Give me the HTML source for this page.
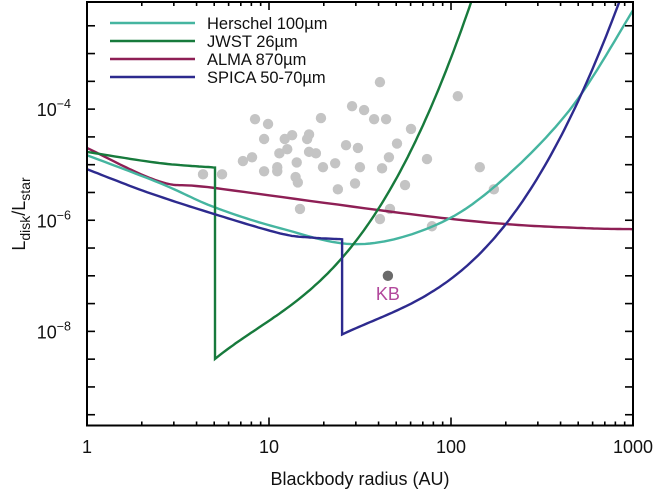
<!DOCTYPE html>
<html><head><meta charset="utf-8"><style>
html,body{margin:0;padding:0;background:#fff;}
svg{display:block;font-family:"Liberation Sans",sans-serif;}
</style></head><body>
<svg id="chart" width="658" height="491" viewBox="0 0 658 491" xmlns="http://www.w3.org/2000/svg">
<g id="marks"></g>
<g id="axes"></g>
</svg>
<script>
// ---- data ----
const xTicks = [1, 10, 100, 1000];
const xTickLabels = ["1", "10", "100", "1000"];
const yTickExps = [-4, -6, -8];
const diskR = [4.34,5.52,7.19,8.07,8.38,9.88,9.4,9.4,11.1,11.1,11.4,12.2,12.6,13.4,14.2,14.4,14.0,14.8,16.2,16.6,16.6,18.1,19.3,19.8,23.1,23.9,26.5,28.6,29.7,30.8,31.6,33.3,37.8,40.7,41.8,44.0,45.6,50.5,40.7,46.2,55.9,60.3,73.8,78.6,109,144,172];
const diskL = [6.7e-6,6.7e-6,1.16e-5,1.36e-5,6.6e-5,5.4e-5,2.9e-5,7.6e-6,9.0e-6,7.6e-6,1.6e-5,2.9e-5,1.9e-5,3.4e-5,1.1e-5,4.8e-6,6.0e-6,1.6e-6,2.9e-5,3.5e-5,1.7e-5,1.6e-5,6.9e-5,9.0e-6,1.06e-5,3.6e-6,2.24e-5,1.13e-4,4.6e-6,2.0e-5,9.0e-6,9.6e-5,6.6e-5,3.06e-4,8.6e-6,6.6e-5,1.36e-5,2.4e-5,1.05e-6,1.6e-6,4.3e-6,4.4e-5,1.26e-5,7.8e-7,1.71e-4,9.0e-6,3.6e-6];
const kbR = 45, kbL = 1.0e-7;
const herschelR = [1, 2.5, 5.05, 11.5, 30, 76.7, 170, 447, 1000];
const herschelL = [1.48e-5, 4.7e-6, 1.7e-6, 7.2e-7, 3.7e-7, 7.4e-7, 3.8e-6, 9.5e-5, 6.0e-3];
const jwstR1 = [1, 2.5, 5.05];
const jwstL1 = [1.7e-5, 1.07e-5, 8.9e-6];
const jwstR2 = [5.05, 7.57, 11.5, 17.5, 25.5, 32.8, 40.7, 50.5, 61.8, 83.7, 98.8, 130];
const jwstL2 = [3.2e-9, 7.8e-9, 2.4e-8, 7.3e-8, 1.68e-7, 5.4e-7, 1.34e-6, 9.0e-6, 3.7e-5, 1.45e-4, 5.0e-4, 9.2e-3];
const almaR = [1, 2.5, 5.05, 59.6, 204, 550, 1000];
const almaL = [2.0e-5, 5.0e-6, 3.8e-6, 1.29e-6, 8.5e-7, 7.2e-7, 6.9e-7];
const spicaR1 = [1, 2.14, 5.05, 11.5, 16.8, 25.2];
const spicaL1 = [8.3e-6, 3.2e-6, 1.28e-6, 5.8e-7, 4.9e-7, 4.55e-7];
const spicaR2 = [25.2, 50.5, 76.7, 87, 132, 204, 297, 412, 511, 659, 849];
const spicaL2 = [8.8e-9, 2.1e-8, 5.5e-8, 6.2e-8, 2.15e-7, 8.5e-7, 5.3e-6, 3.7e-5, 1.45e-4, 1.55e-3, 9.2e-3];
const seriesNames = ["Herschel 100µm","JWST 26µm","ALMA 870µm","SPICA 50-70µm"];
const seriesColors = ["#45b5a0","#177a3c","#8e1f55","#2d2a8e"];

// ---- axes functions ----
const L = 87, R = 633, T = 2, B = 425.5;
const yMinLog = -9.694, yMaxLog = -2.072;
function xs(v){ return L + Math.log10(v) / 3 * (R - L); }
function ys(v){ return B - (Math.log10(v) - yMinLog) / (yMaxLog - yMinLog) * (B - T); }
const NS = "http://www.w3.org/2000/svg";
function mk(tag, attrs, parent){ const e=document.createElementNS(NS,tag); for(const k in attrs) e.setAttribute(k,attrs[k]); parent.appendChild(e); return e; }
const marks = document.getElementById('marks');
const axes = document.getElementById('axes');

function smoothPts(rs, ls){
  const p = rs.map((r,i)=>[xs(r), ys(ls[i])]);
  const out=[p[0]];
  for(let i=0;i<p.length-1;i++){
    const p0=p[Math.max(0,i-1)], p1=p[i], p2=p[i+1], p3=p[Math.min(p.length-1,i+2)];
    for(let s=1;s<=16;s++){
      const t=s/16, t2=t*t, t3=t2*t;
      const f=(a,b,c,d)=>0.5*((2*b)+(-a+c)*t+(2*a-5*b+4*c-d)*t2+(-a+3*b-3*c+d)*t3);
      out.push([f(p0[0],p1[0],p2[0],p3[0]), f(p0[1],p1[1],p2[1],p3[1])]);
    }
  }
  return out;
}
// least-squares polynomial fit in log-log space
function fitPts(rs, ls){
  const X = rs.map(r=>Math.log10(r)), Y = ls.map(l=>Math.log10(l));
  const x0 = X[0], n=5;
  const A = Array.from({length:n},()=>new Array(n+1).fill(0));
  X.forEach((x,k)=>{
    const u=x-x0;
    const w = (k===0||k===X.length-1)?20:1;
    for(let i=0;i<n;i++){ for(let j=0;j<n;j++) A[i][j]+=w*Math.pow(u,i+j); A[i][n]+=w*Math.pow(u,i)*Y[k]; }
  });
  for(let i=0;i<n;i++){
    for(let k=i+1;k<n;k++){ const f=A[k][i]/A[i][i]; for(let j=i;j<=n;j++) A[k][j]-=f*A[i][j]; }
  }
  const c=new Array(n).fill(0);
  for(let i=n-1;i>=0;i--){ let s=A[i][n]; for(let j=i+1;j<n;j++) s-=A[i][j]*c[j]; c[i]=s/A[i][i]; }
  const out=[];
  const x1 = X[X.length-1];
  for(let s=0;s<=100;s++){
    const x = X[0]+(x1-X[0])*s/100, u=x-x0;
    let y=0; for(let i=n-1;i>=0;i--) y=y*u+c[i];
    out.push([xs(Math.pow(10,x)), ys(Math.pow(10,y))]);
  }
  return out;
}
function ptsToD(pts){ return pts.map((q,i)=>(i?"L":"M")+q[0].toFixed(1)+","+q[1].toFixed(1)).join(""); }

const defs = mk('defs',{},marks);
const cp = mk('clipPath',{id:'clip'},defs);
mk('rect',{x:L,y:T,width:R-L,height:B-T},cp);
const plot = mk('g',{'clip-path':'url(#clip)'},marks);

diskR.forEach((r,i)=>{
  const c = mk('circle',{cx:xs(r),cy:ys(diskL[i]),r:5.2,fill:'#c4c4c4'},plot);
  
  
});
const kb = mk('circle',{cx:xs(kbR),cy:ys(kbL),r:5.2,fill:'#6a6a6a'},plot);


const kbt = mk('text',{x:xs(kbR),y:ys(kbL)+24,'text-anchor':'middle','font-size':'18',fill:'#b2489c'},marks);
kbt.textContent = "KB";



function curve(pts, color, name){
  const p = mk('path',{d:ptsToD(pts),fill:'none',stroke:color,'stroke-width':2.4,'stroke-linejoin':'miter'},plot);
  
  
}
curve(smoothPts(almaR, almaL), seriesColors[2], 'alma-curve');
curve(smoothPts(herschelR, herschelL), seriesColors[0], 'herschel-curve');
curve(smoothPts(jwstR1, jwstL1).concat(fitPts(jwstR2, jwstL2)), seriesColors[1], 'jwst-curve');
curve(smoothPts(spicaR1, spicaL1).concat(fitPts(spicaR2, spicaL2)), seriesColors[3], 'spica-curve');

const leg = mk('g',{},marks);


seriesNames.forEach((n,i)=>{
  const y = 23 + i*18;
  const ln = mk('line',{x1:110,x2:195,y1:y,y2:y,stroke:seriesColors[i],'stroke-width':2.4},leg);
  
  
  const t = mk('text',{x:207,y:y+6,'font-size':'16.5',fill:'#111'},leg);
  t.textContent = n;
  
  
});

const fr = mk('rect',{x:L,y:T,width:R-L,height:B-T,fill:'none',stroke:'#000','stroke-width':2},axes);


for(let dec=0; dec<3; dec++){
  for(let m=1;m<=9;m++){
    const v = m*Math.pow(10,dec); const x = xs(v);
    const len = m===1?8:4;
    mk('line',{x1:x,x2:x,y1:B,y2:B-len,stroke:'#000','stroke-width':1.6},axes);
    mk('line',{x1:x,x2:x,y1:T,y2:T+len,stroke:'#000','stroke-width':1.6},axes);
  }
}
xTicks.forEach((v,i)=>{
  const t = mk('text',{x:xs(v),y:453,'text-anchor':'middle','font-size':'18',fill:'#111'},axes);
  t.textContent = xTickLabels[i];
  
  
});
for(let e=-9.5; e<=-2.5; e+=0.5){
  const y = ys(Math.pow(10,e));
  mk('line',{x1:L,x2:L+8,y1:y,y2:y,stroke:'#000','stroke-width':1.6},axes);
  mk('line',{x1:R,x2:R-8,y1:y,y2:y,stroke:'#000','stroke-width':1.6},axes);
}
yTickExps.forEach(e=>{
  const y = ys(Math.pow(10,e));
  const t = mk('text',{x:71,y:y+7,'text-anchor':'end','font-size':'18',fill:'#111'},axes);
  t.innerHTML = '10<tspan dy="-8" font-size="12.5">−'+Math.abs(e)+'</tspan>';
  
  
});
</script>
<svg style="position:absolute;left:0;top:0" width="658" height="491">
<text x="360" y="485" text-anchor="middle" font-size="18" fill="#111" font-family="Liberation Sans, sans-serif">Blackbody radius (AU)</text>
<text transform="translate(25,214) rotate(-90)" text-anchor="middle" font-size="18" fill="#111" font-family="Liberation Sans, sans-serif">L<tspan dy="5" font-size="14">disk</tspan><tspan dy="-5">/L</tspan><tspan dy="5" font-size="14">star</tspan></text>
</svg>
</body></html>
